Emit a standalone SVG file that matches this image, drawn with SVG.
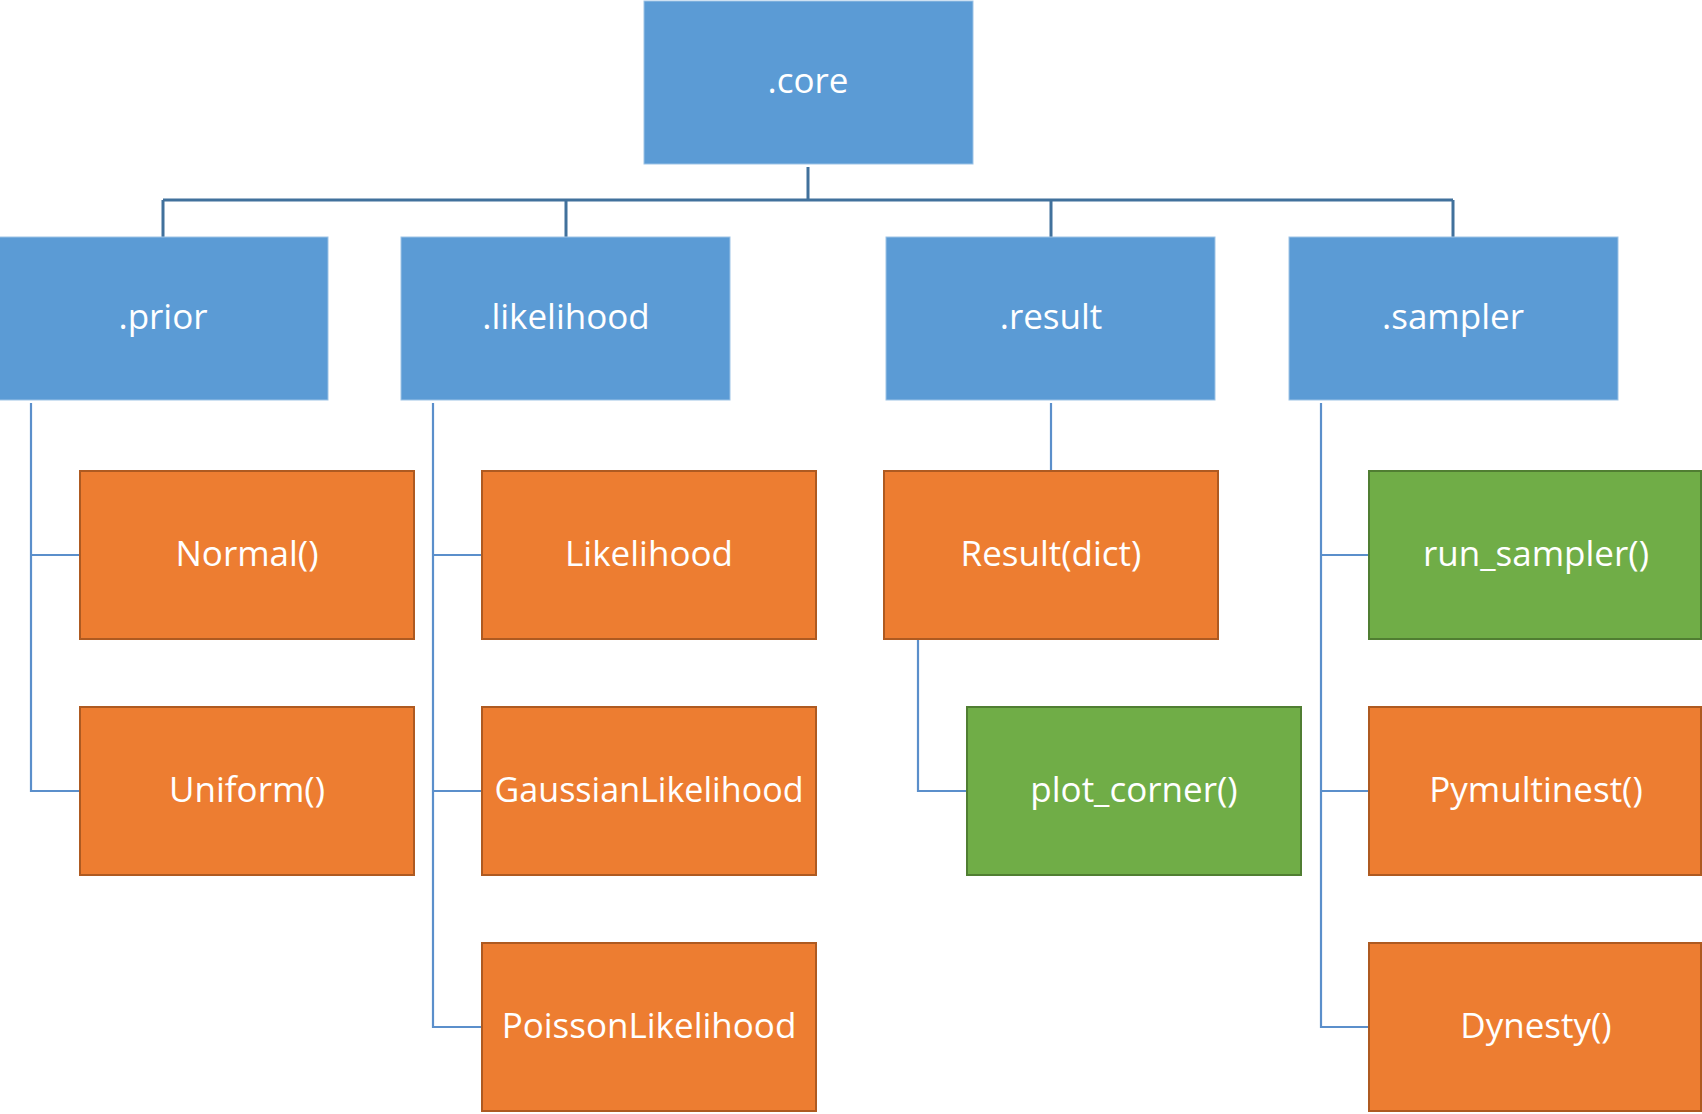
<svg xmlns="http://www.w3.org/2000/svg" width="1702" height="1114" viewBox="0 0 1702 1114">
<style>
.blue{fill:#5B9BD5;stroke:#9DC3E6;stroke-width:1}
.orange{fill:#ED7D31;stroke:#AE5A21;stroke-width:2}
.green{fill:#70AD47;stroke:#507E32;stroke-width:2}
text{font-family:"Open Sans","Liberation Sans",sans-serif;font-size:35px;fill:#ffffff;text-anchor:middle}
.top{stroke:#41719C;stroke-width:3;fill:none}
.sub{stroke:#5B8FCB;stroke-width:2.2;fill:none}
</style>
<rect width="1702" height="1114" fill="#ffffff"/>
<g id="connectors">
<path class="top" d="M808 167V200M163 200H1453M163 200V237M566 200V237M1051 200V237M1453 200V237"/>
<path class="sub" d="M31 403V791H80M31 555H80"/>
<path class="sub" d="M433 403V1027H482M433 555H482M433 791H482"/>
<path class="sub" d="M1051 403V471M918 639V791H967"/>
<path class="sub" d="M1321 403V1027H1369M1321 555H1369M1321 791H1369"/>
</g>
<g id="core"><rect class="blue" x="644" y="1" width="329" height="163"/><text x="808" y="93">.core</text></g>
<g id="prior"><rect class="blue" x="-1" y="237" width="329" height="163"/><text x="163" y="329">.prior</text></g>
<g id="likelihood"><rect class="blue" x="401" y="237" width="329" height="163"/><text x="566" y="329">.likelihood</text></g>
<g id="result"><rect class="blue" x="886" y="237" width="329" height="163"/><text x="1051" y="329">.result</text></g>
<g id="sampler"><rect class="blue" x="1289" y="237" width="329" height="163"/><text x="1453" y="329">.sampler</text></g>
<g id="normal"><rect class="orange" x="80" y="471" width="334" height="168"/><text x="247" y="566">Normal()</text></g>
<g id="uniform"><rect class="orange" x="80" y="707" width="334" height="168"/><text x="247" y="802">Uniform()</text></g>
<g id="likelihood-cls"><rect class="orange" x="482" y="471" width="334" height="168"/><text x="649" y="566">Likelihood</text></g>
<g id="gaussian"><rect class="orange" x="482" y="707" width="334" height="168"/><text x="649" y="802" textLength="309" lengthAdjust="spacingAndGlyphs">GaussianLikelihood</text></g>
<g id="poisson"><rect class="orange" x="482" y="943" width="334" height="168"/><text x="649" y="1038">PoissonLikelihood</text></g>
<g id="result-dict"><rect class="orange" x="884" y="471" width="334" height="168"/><text x="1051" y="566">Result(dict)</text></g>
<g id="plot-corner"><rect class="green" x="967" y="707" width="334" height="168"/><text x="1134" y="802">plot_corner()</text></g>
<g id="run-sampler"><rect class="green" x="1369" y="471" width="332" height="168"/><text x="1536" y="566">run_sampler()</text></g>
<g id="pymultinest"><rect class="orange" x="1369" y="707" width="332" height="168"/><text x="1536" y="802">Pymultinest()</text></g>
<g id="dynesty"><rect class="orange" x="1369" y="943" width="332" height="168"/><text x="1536" y="1038">Dynesty()</text></g>
</svg>
